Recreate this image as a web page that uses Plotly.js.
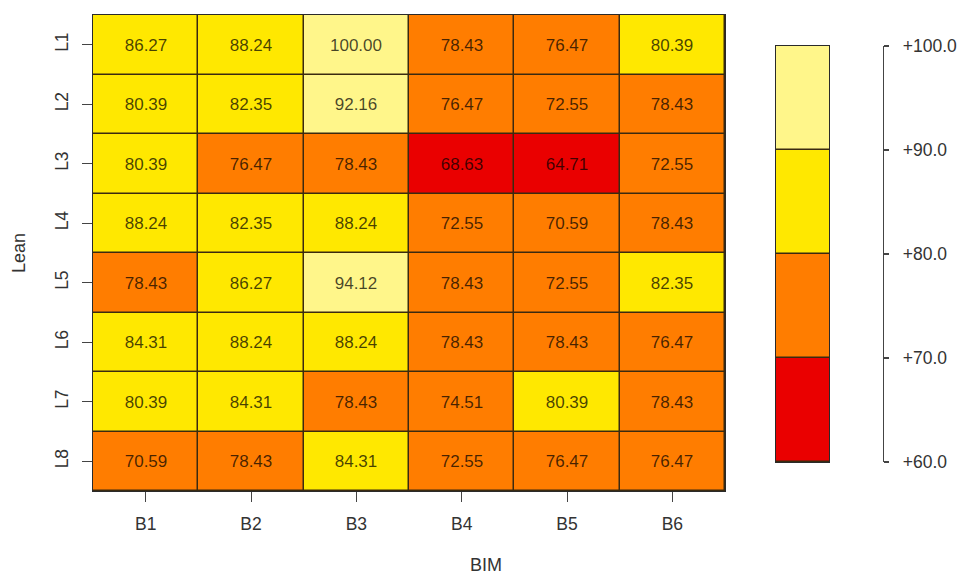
<!DOCTYPE html>
<html>
<head>
<meta charset="utf-8">
<script src="https://cdn.plot.ly/plotly-3.0.1.min.js"></script>
<style>html,body{margin:0;padding:0;background:#fff;}#chart{width:960px;height:575px;}</style>
</head>
<body>
<div id="chart"></div>
<script>
const cols = ["B1", "B2", "B3", "B4", "B5", "B6"];
const rows = ["L1", "L2", "L3", "L4", "L5", "L6", "L7", "L8"];
const L1 = [86.27, 88.24, 100.00, 78.43, 76.47, 80.39];
const L2 = [80.39, 82.35, 92.16, 76.47, 72.55, 78.43];
const L3 = [80.39, 76.47, 78.43, 68.63, 64.71, 72.55];
const L4 = [88.24, 82.35, 88.24, 72.55, 70.59, 78.43];
const L5 = [78.43, 86.27, 94.12, 78.43, 72.55, 82.35];
const L6 = [84.31, 88.24, 88.24, 78.43, 78.43, 76.47];
const L7 = [80.39, 84.31, 78.43, 74.51, 80.39, 78.43];
const L8 = [70.59, 78.43, 84.31, 72.55, 76.47, 76.47];
const binCenters = [65, 75, 85, 95];
const legendTicks = [60, 70, 80, 90, 100];
const legendLabels = ["+60.0", "+70.0", "+80.0", "+90.0", "+100.0"];

const z = [L1, L2, L3, L4, L5, L6, L7, L8];
const red = "#EA0000", orange = "#FF7D00", yellow = "#FFE800", lyellow = "#FFF68A";
const cs = [[0, red], [0.25, red], [0.25, orange], [0.5, orange], [0.5, yellow], [0.75, yellow], [0.75, lyellow], [1, lyellow]];
const font = "Liberation Sans, Arial, sans-serif";
const dark = "#2a2a2a";
const W = 960, H = 575;

const data = [
  {
    type: "heatmap", x: cols, y: rows, z: z,
    colorscale: cs, zmin: 60, zmax: 100, showscale: false,
    xgap: 1.5, ygap: 1.5,
    texttemplate: "%{z:.2f}",
    textfont: {family: font, size: 17, color: "rgba(0,0,0,0.72)"},
    hoverinfo: "skip"
  },
  {
    type: "heatmap", x: [0], y: binCenters, z: binCenters.map(v => [v]),
    xaxis: "x2", yaxis: "y2",
    colorscale: cs, zmin: 60, zmax: 100, showscale: false,
    ygap: 1.5, hoverinfo: "skip"
  },
  {
    type: "scatter", x: [null], y: [null], xaxis: "x2", yaxis: "y3",
    mode: "markers", showlegend: false, hoverinfo: "skip"
  }
];

const layout = {
  width: W, height: H,
  margin: {l: 0, r: 0, t: 0, b: 0},
  paper_bgcolor: "#ffffff",
  plot_bgcolor: "#3a2a10",
  showlegend: false,
  font: {family: font, size: 17, color: "#333"},
  xaxis: {
    domain: [93 / W, 725 / W], anchor: "y", type: "category",
    range: [-0.5, 5.5],
    showline: true, mirror: true, linecolor: dark, linewidth: 1,
    ticks: "outside", ticklen: 10, tickcolor: "#444", tickwidth: 1,
    ticklabelstandoff: 7,
    tickfont: {family: font, size: 17.5, color: "#333"},
    showgrid: false, zeroline: false, fixedrange: true
  },
  yaxis: {
    domain: [84 / H, 560 / H], anchor: "x", type: "category",
    range: [7.5, -0.5],
    showline: true, mirror: true, linecolor: dark, linewidth: 1,
    ticks: "outside", ticklen: 10, tickcolor: "#444", tickwidth: 1,
    tickangle: -90, ticklabelstandoff: 7,
    tickfont: {family: font, size: 17.5, color: "#333"},
    showgrid: false, zeroline: false, fixedrange: true
  },
  xaxis2: {
    domain: [776 / W, 829 / W], anchor: "y2",
    showline: true, mirror: true, linecolor: dark, linewidth: 1,
    showticklabels: false, ticks: "", showgrid: false, zeroline: false,
    range: [-0.5, 0.5], fixedrange: true
  },
  yaxis2: {
    domain: [113 / H, 529 / H], anchor: "x2",
    range: [60, 100],
    showline: true, mirror: true, linecolor: dark, linewidth: 1,
    showticklabels: false, ticks: "", showgrid: false, zeroline: false,
    fixedrange: true
  },
  yaxis3: {
    domain: [113 / H, 529 / H], overlaying: "y2", anchor: "free",
    position: 883 / W, side: "right",
    range: [60, 100],
    showline: true, linecolor: "#444", linewidth: 1.3,
    ticks: "outside", ticklen: 5, tickcolor: "#444", tickwidth: 1.3,
    ticklabelstandoff: 10,
    tickmode: "array", tickvals: legendTicks, ticktext: legendLabels,
    tickfont: {family: font, size: 17.5, color: "#333"},
    showgrid: false, zeroline: false, fixedrange: true
  },
  annotations: [
    {text: "Lean", xref: "paper", yref: "paper", x: 19 / W, y: 1 - 253 / H,
     showarrow: false, textangle: -90, xanchor: "center", yanchor: "middle",
     font: {family: font, size: 18, color: "#333"}},
    {text: "BIM", xref: "paper", yref: "paper", x: 486 / W, y: 1 - 565 / H,
     showarrow: false, xanchor: "center", yanchor: "middle",
     font: {family: font, size: 18, color: "#333"}}
  ]
};

Plotly.newPlot("chart", data, layout, {displayModeBar: false, staticPlot: true});
</script>
</body>
</html>
